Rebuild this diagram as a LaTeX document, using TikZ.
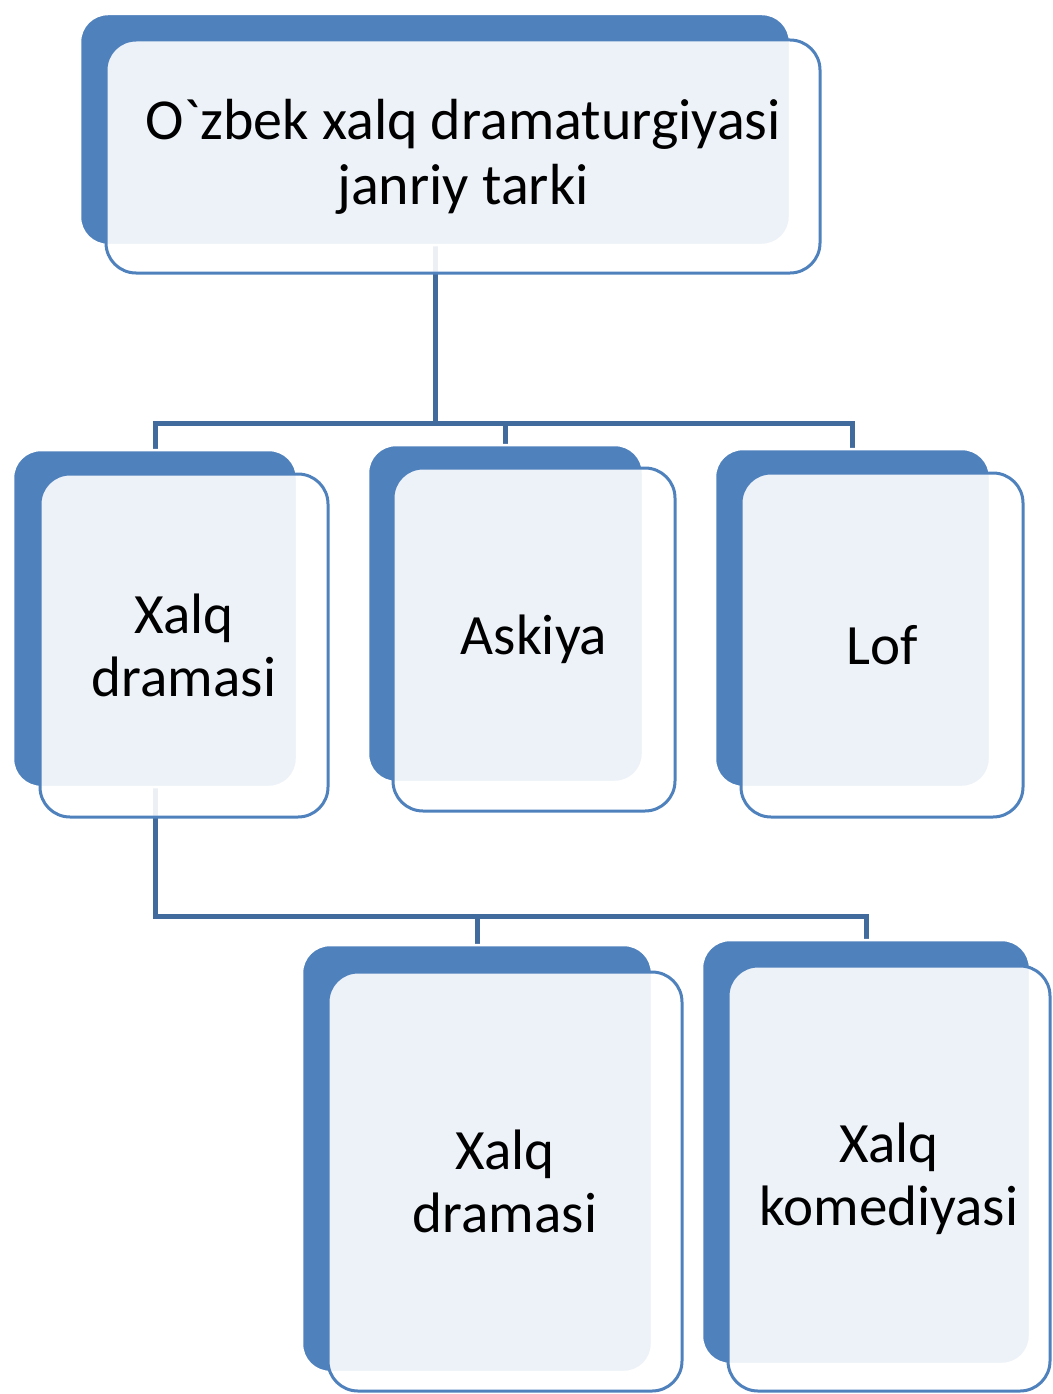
\documentclass[tikz,border=0pt]{standalone}
\usepackage{fontspec}
\newfontfamily\calfont{Carlito}
\usetikzlibrary{backgrounds}
\definecolor{boxblue}{RGB}{79,129,189}
\definecolor{linkblue}{RGB}{65,106,157}
\begin{document}
\begin{tikzpicture}[x=1pt,y=-1pt,
  backbox/.style={rectangle, inner sep=0pt, fill=boxblue, draw=white, line width=2.5pt, rounded corners=28pt},
  frontbox/.style={rectangle, inner sep=0pt, fill=white, fill opacity=0.9, text opacity=1, draw=boxblue, draw opacity=1, line width=3pt, rounded corners=30pt, align=center, font=\calfont\fontsize{57}{63}\selectfont},
  link/.style={draw=linkblue, line width=5pt}]
\useasboundingbox (0,0) rectangle (1052,1394);
% top
\node[backbox, minimum width=710, minimum height=231] (t0) at (435,129.5) {};
\node[frontbox, minimum width=714, minimum height=233, font=\calfont\fontsize{58}{65}\selectfont] (t1) at (463,156.5) {O`zbek xalq dramaturgiyasi\\janriy tarki};
% row 2
\node[backbox, minimum width=284, minimum height=337] (a0) at (155,618.5) {};
\node[frontbox, minimum width=288, minimum height=343] (a1) at (184,645.5) {Xalq\\dramasi};
\node[backbox, minimum width=275, minimum height=337] (b0) at (505.5,613.5) {};
\node[frontbox, minimum width=282, minimum height=343] (b1) at (534,639.5) {Askiya};
\node[backbox, minimum width=275, minimum height=338] (c0) at (852.5,618) {};
\node[frontbox, minimum width=282, minimum height=344] (c1) at (882,645) {Lof};
% row 3
\node[backbox, minimum width=350, minimum height=427] (d0) at (477,1158.5) {};
\node[frontbox, minimum width=354, minimum height=419] (d1) at (505,1181.5) {Xalq\\dramasi};
\node[backbox, minimum width=328, minimum height=424] (e0) at (866,1152) {};
\node[frontbox, minimum width=322, minimum height=425] (e1) at (889,1178.5) {Xalq\\komediyasi};
% connectors
\coordinate (j1) at (0,423);
\coordinate (j2) at (0,916);
\begin{scope}[on background layer]
\draw[link] (t0.south) |- (a0.north |- j1) -- (a0.north);
\draw[link] (t0.south) |- (b0.north |- j1) -- (b0.north);
\draw[link] (t0.south) |- (c0.north |- j1) -- (c0.north);
\draw[link] (a0.south) |- (d0.north |- j2) -- (d0.north);
\draw[link] (a0.south) |- (e0.north |- j2) -- (e0.north);
\end{scope}
\end{tikzpicture}
\end{document}
